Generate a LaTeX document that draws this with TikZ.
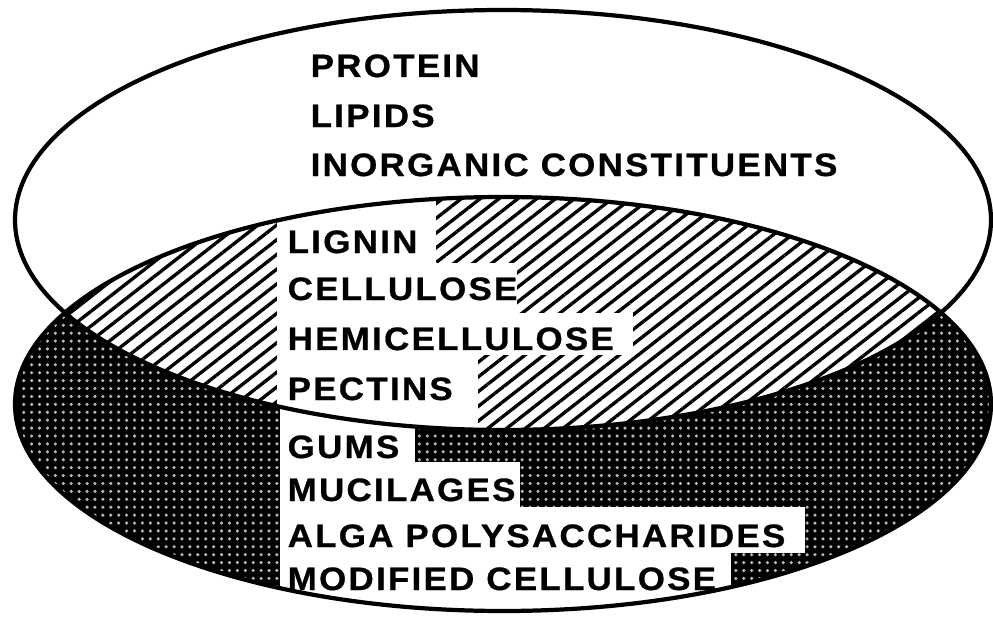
\documentclass[tikz,border=0pt]{standalone}
\usepackage{fontspec}
\usetikzlibrary{patterns.meta}
\newfontfamily\lblfont{Liberation Sans}[LetterSpace=7, FakeStretch=1.08, FakeBold=0.8]

\tikzset{
  lbl/.style={anchor=base west, inner sep=0pt, font=\lblfont\bfseries\fontsize{9.2}{10}\selectfont},
  rim/.style={line width=1.2pt},
}

\begin{document}
\begin{tikzpicture}[x=0.01cm, y=-0.01cm]
  \useasboundingbox (0,0) rectangle (993,618);
  \coordinate (up) at (503,220);
  \coordinate (lo) at (503,404);

  \fill[black] (lo) ellipse [x radius=488, y radius=207];
  \fill[pattern={Dots[radius=0.5pt, distance=2.25pt]}, pattern color=white!72!black]
    (lo) ellipse [x radius=488, y radius=207];
  \begin{scope}
    \clip (lo) ellipse [x radius=488, y radius=207];
    \fill[white] (280,400) rectangle (415,462);
    \fill[white] (280,462) rectangle (520,507);
    \fill[white] (280,507) rectangle (805,553);
    \fill[white] (280,553) rectangle (731,620);
  \end{scope}

  \fill[white] (up) ellipse [x radius=488, y radius=210];
  \begin{scope}
    \clip (up) ellipse [x radius=488, y radius=210];
    \clip (lo) ellipse [x radius=488, y radius=207];
    \fill[pattern={Lines[angle=38, distance=3.3pt, line width=0.95pt]}] (0,0) rectangle (993,618);
    \fill[white] (277,190) rectangle (436,263);
    \fill[white] (277,263) rectangle (517,313);
    \fill[white] (277,313) rectangle (633,355);
    \fill[white] (277,355) rectangle (478,440);
  \end{scope}

  \draw[rim] (up) ellipse [x radius=488, y radius=210];
  \draw[rim] (lo) ellipse [x radius=488, y radius=207];

  \node[lbl] (protein) at (310,77) {PROTEIN};
  \node[lbl] (lipids) at (310,127) {LIPIDS};
  \node[lbl] (inorg) at (310,176) {INORGANIC CONSTITUENTS};

  \node[lbl] (lignin) at (287,253) {LIGNIN};
  \node[lbl] (cellu) at (287,300) {CELLULOSE};
  \node[lbl] (hemi) at (287,350) {HEMICELLULOSE};
  \node[lbl] (pectins) at (287,400) {PECTINS};

  \node[lbl] (gums) at (287,458) {GUMS};
  \node[lbl] (mucil) at (287,501) {MUCILAGES};
  \node[lbl] (alga) at (287,547) {ALGA POLYSACCHARIDES};
  \node[lbl] (modcell) at (287,590) {MODIFIED CELLULOSE};
\end{tikzpicture}
\end{document}
